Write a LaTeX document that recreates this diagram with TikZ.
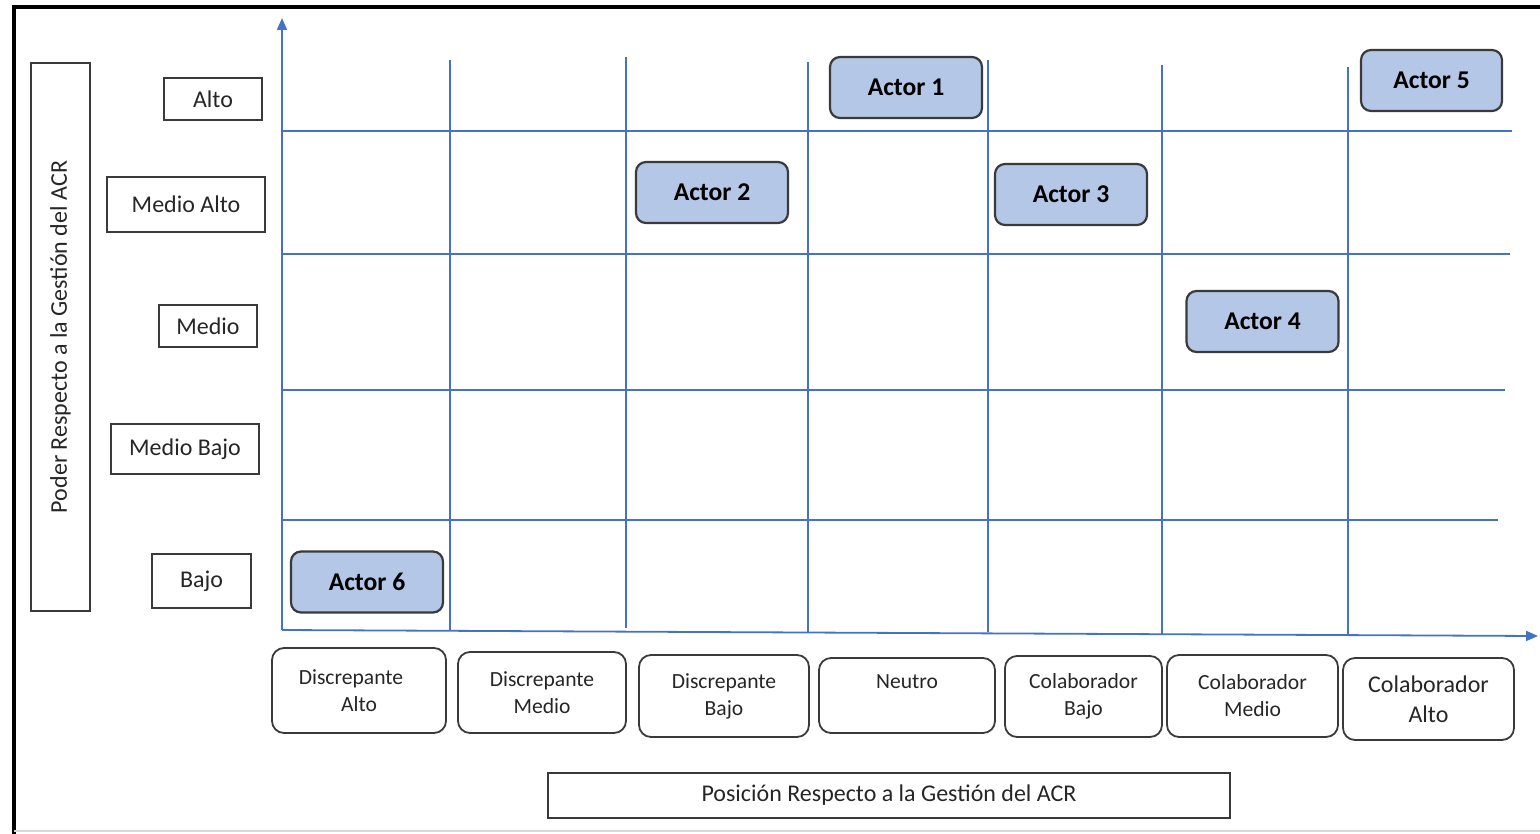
\documentclass[tikz,border=0pt]{standalone}
\usepackage{fontspec}
\setmainfont{Carlito}
\usetikzlibrary{arrows.meta}
\definecolor{gridblue}{HTML}{4472C4}
\definecolor{actorfill}{HTML}{B4C7E7}
\definecolor{boxline}{HTML}{3A3A3A}
\tikzset{
  lvl/.style={draw=boxline, line width=0.9pt, inner sep=0pt, font=\fontsize{12}{14}\selectfont, text=black!85},
  actorbox/.style={draw=boxline, line width=1.1pt, fill=actorfill, rounded corners=5pt, minimum width=76pt, minimum height=30.5pt, inner sep=0pt, font=\bfseries\fontsize{12.8}{15}\selectfont},
  posbox/.style={draw=boxline, line width=0.9pt, rounded corners=6pt, inner sep=0pt, align=center, font=\fontsize{10.8}{13.5}\selectfont, text=black!85},
  gridline/.style={draw=gridblue, line width=0.75pt},
  axisline/.style={draw=gridblue, line width=0.9pt, -{Triangle[length=6pt,width=5pt]}},
}
\begin{document}
\begin{tikzpicture}[x=0.5pt,y=-0.5pt]
\useasboundingbox (0,0) rectangle (1540,834);
% frame
\draw[line width=1.6pt] (14,834) -- (14,7) -- (1540,7);
\draw[black!15, line width=0.8pt] (14,831) -- (1540,831);
% grid
\coordinate (O) at (282,630);
\coordinate (Ytip) at (282,18);
\coordinate (Xtip) at (1538,636);
\foreach \y/\xe in {131/1512, 254/1510, 390/1505, 520/1498}
  \draw[gridline] (282,\y) -- (\xe,\y);
\foreach \x/\ys/\ye in {450/60/630, 626/57/628, 808/62/632, 988/60/632, 1162/65/634, 1348/67/636}
  \draw[gridline] (\x,\ys) -- (\x,\ye);
\draw[axisline] (O) -- (Ytip);
\draw[axisline] (O) -- (Xtip);
% left labels
\node[lvl, minimum width=49pt, minimum height=21pt] (alto) at (213,99) {Alto};
\node[lvl, minimum width=79pt, minimum height=27.5pt] (malto) at (186,204.5) {Medio Alto};
\node[lvl, minimum width=49pt, minimum height=21pt] (medio) at (208,326) {Medio};
\node[lvl, minimum width=74pt, minimum height=25pt] (mbajo) at (185,449) {Medio Bajo};
\node[lvl, minimum width=49.5pt, minimum height=27pt] (bajo) at (201.5,581) {Bajo};
\node[lvl, rotate=90, minimum width=274pt, minimum height=29.5pt] (poder) at (60.5,337) {Poder Respecto a la Gestión del ACR};
% actors
\node[actorbox] (a1) at (906,87.5) {Actor 1};
\node[actorbox] (a2) at (712,192.5) {Actor 2};
\node[actorbox] (a3) at (1071,194.5) {Actor 3};
\node[actorbox] (a4) at (1262.5,321.5) {Actor 4};
\node[actorbox, minimum width=70.5pt] (a5) at (1431.5,80.5) {Actor 5};
\node[actorbox] (a6) at (367,582) {Actor 6};
% bottom categories
\node[posbox, minimum width=87pt, minimum height=42.5pt] (da) at (359,690.5) {Discrepante\hspace*{8pt}\\Alto};
\node[posbox, minimum width=84pt, minimum height=40.5pt] (dm) at (542,692.5) {Discrepante\\Medio};
\node[posbox, minimum width=85pt, minimum height=41pt] (db) at (724,696) {Discrepante\\Bajo};
\node[posbox, minimum width=88pt, minimum height=37.5pt] (ne) at (907,695.5) {Neutro\\\mbox{}};
\node[posbox, minimum width=78.5pt, minimum height=40.5pt] (cb) at (1083.5,696.5) {Colaborador\\Bajo};
\node[posbox, minimum width=85.5pt, minimum height=41pt] (cm) at (1252.5,696) {Colaborador\\Medio};
\node[posbox, minimum width=85.5pt, minimum height=41pt, font=\fontsize{12}{15}\selectfont] (ca) at (1428.5,699) {Colaborador\\Alto};
% axis title
\node[lvl, minimum width=341pt, minimum height=22.5pt] (pos) at (889,795.5) {Posición Respecto a la Gestión del ACR};
\end{tikzpicture}
\end{document}
